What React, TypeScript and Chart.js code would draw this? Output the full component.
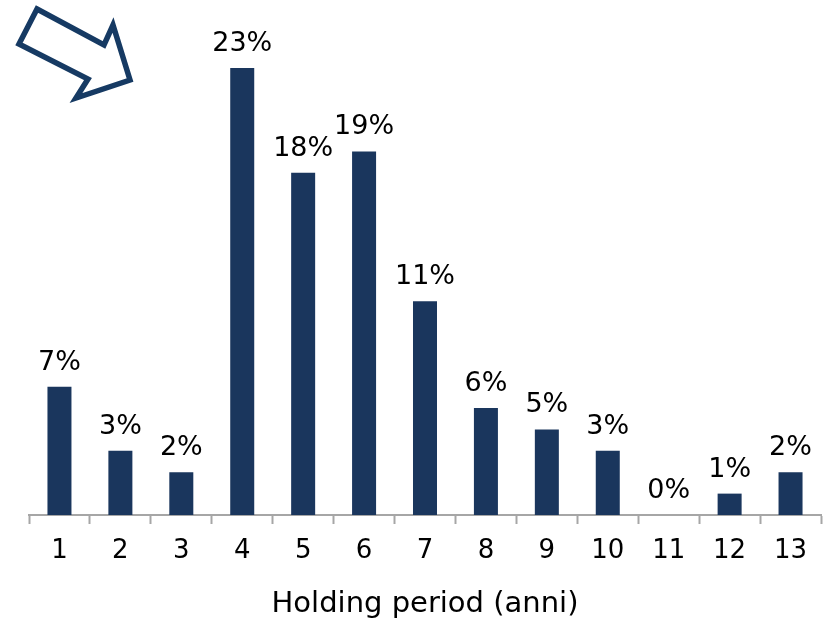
import React, { useEffect, useRef } from "react";
import { Chart, registerables } from "chart.js";

Chart.register(...registerables);

const categories = ["1", "2", "3", "4", "5", "6", "7", "8", "9", "10", "11", "12", "13"];
const values = [6.6, 3.3, 2.2, 23.0, 17.6, 18.7, 11.0, 5.5, 4.4, 3.3, 0, 1.1, 2.2];
const valueLabels = ["7%", "3%", "2%", "23%", "18%", "19%", "11%", "6%", "5%", "3%", "0%", "1%", "2%"];
const axisTitle = "Holding period (anni)";

const NAVY = "#1a365d";
const FONT = "'DejaVu Sans', Verdana, sans-serif";

const labelPlugin = {
  id: "barLabels",
  afterDatasetsDraw(chart: any) {
    const ctx = chart.ctx;
    const meta = chart.getDatasetMeta(0);
    ctx.save();
    ctx.font = `27px ${FONT}`;
    ctx.fillStyle = "#000000";
    ctx.textAlign = "center";
    ctx.textBaseline = "alphabetic";
    meta.data.forEach((bar: any, i: number) => {
      ctx.fillText(valueLabels[i], bar.x, bar.y - 17);
    });
    ctx.restore();
  },
};

const arrowPlugin = {
  id: "arrowShape",
  afterDraw(chart: any) {
    const ctx = chart.ctx;
    const pts = [
      [37, 9],
      [104, 45],
      [113, 25],
      [130, 80],
      [76, 98],
      [88, 79],
      [19, 44],
    ];
    ctx.save();
    ctx.beginPath();
    pts.forEach((p, i) => (i === 0 ? ctx.moveTo(p[0], p[1]) : ctx.lineTo(p[0], p[1])));
    ctx.closePath();
    ctx.fillStyle = "#ffffff";
    ctx.fill();
    ctx.lineWidth = 5.5;
    ctx.lineJoin = "miter";
    ctx.strokeStyle = "#163a63";
    ctx.stroke();
    ctx.restore();
  },
};

export default function App() {
  const canvasRef = useRef<HTMLCanvasElement | null>(null);

  useEffect(() => {
    if (!canvasRef.current) return;
    const chart = new Chart(canvasRef.current, {
      type: "bar",
      data: {
        labels: categories,
        datasets: [
          {
            data: values,
            backgroundColor: NAVY,
            borderWidth: 0,
            barPercentage: 1,
            categoryPercentage: 0.394,
          },
        ],
      },
      options: {
        animation: false,
        responsive: true,
        maintainAspectRatio: false,
        layout: { padding: { top: 29, left: 29, right: 6, bottom: -4 } },
        plugins: {
          legend: { display: false },
          tooltip: { enabled: false },
        },
        scales: {
          x: {
            offset: true,
            grid: {
              display: true,
              drawOnChartArea: false,
              drawTicks: true,
              tickLength: 9,
              tickWidth: 2,
              tickColor: "#a6a6a6",
              offset: true,
            },
            border: { display: true, color: "#a6a6a6", width: 2 },
            ticks: {
              color: "#000000",
              padding: 12,
              font: { family: FONT, size: 26 },
              maxRotation: 0,
              autoSkip: false,
            },
            title: {
              display: true,
              text: axisTitle,
              color: "#000000",
              font: { family: FONT, size: 29 },
              padding: { top: 8, bottom: 0 },
            },
          },
          y: {
            display: false,
            min: 0,
            max: 25,
          },
        },
      },
      plugins: [labelPlugin, arrowPlugin],
    });
    return () => chart.destroy();
  }, []);

  return (
    <div style={{ position: "absolute", left: 0, top: 0, width: 827, height: 618, background: "#ffffff" }}>
      <canvas ref={canvasRef} />
    </div>
  );
}
